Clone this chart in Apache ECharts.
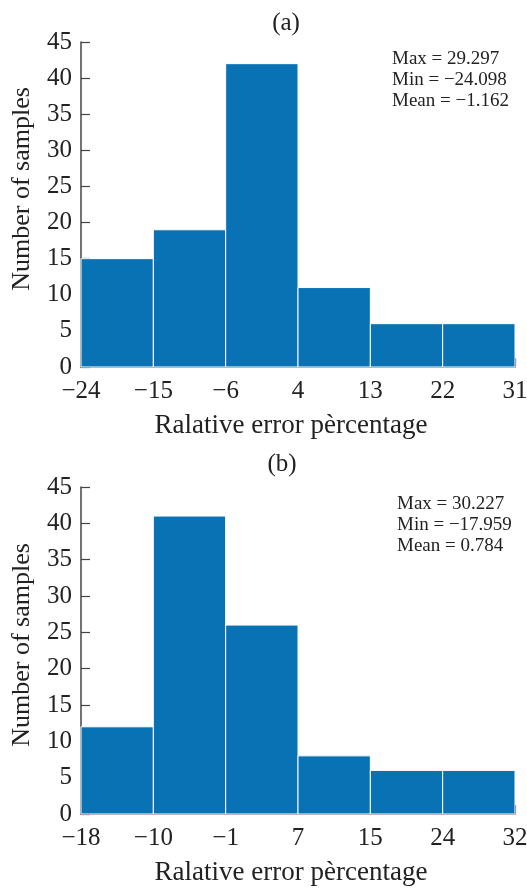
<!DOCTYPE html>
<html>
<head>
<meta charset="utf-8">
<script src="https://cdn.jsdelivr.net/npm/echarts@6/dist/echarts.min.js"></script>
<style>
  html, body { margin: 0; padding: 0; background: #fff; }
  #chart { width: 527px; height: 888px; }
</style>
</head>
<body>
<div id="chart"></div>
<script>
// Histogram (a): bin edge labels and sample counts per bin
const edgesA = ['−24', '−15', '−6', '4', '13', '22', '31'];
const countsA = [15, 19, 42, 11, 6, 6];
const statsA = ['Max = 29.297', 'Min = −24.098', 'Mean = −1.162'];

// Histogram (b): bin edge labels and sample counts per bin
const edgesB = ['−18', '−10', '−1', '7', '15', '24', '32'];
const countsB = [12, 41, 26, 8, 6, 6];
const statsB = ['Max = 30.227', 'Min = −17.959', 'Mean = 0.784'];

const yTicks = { min: 0, max: 45, interval: 5 };
const xLabel = 'Ralative error pèrcentage';
const yLabel = 'Number of samples';

const FONT = '"Liberation Serif", "Times New Roman", serif';
const TEXT = '#222';
const AXIS = '#444';
const BAR = '#0872b4';

const chart = echarts.init(document.getElementById('chart'), null, { renderer: 'canvas' });

function xAxisFor(gridIndex, edges) {
  return {
    gridIndex, type: 'value', min: 0, max: edges.length - 1, interval: 1,
    name: xLabel, nameLocation: 'middle', nameGap: 45,
    nameTextStyle: { fontFamily: FONT, fontSize: 27, color: TEXT, padding: [0, 14, 0, 0] },
    axisLine: { onZero: false, lineStyle: { color: AXIS, width: 1.5 } },
    axisTick: { inside: true, length: 9, lineStyle: { color: AXIS, width: 1.2 } },
    axisLabel: { fontFamily: FONT, fontSize: 25, color: TEXT, margin: 12,
      formatter: v => edges[Math.round(v)] ?? '', showMinLabel: true, showMaxLabel: true },
    splitLine: { show: false }
  };
}

function yAxisFor(gridIndex) {
  return {
    gridIndex, type: 'value', min: yTicks.min, max: yTicks.max, interval: yTicks.interval,
    axisLine: { show: true, lineStyle: { color: AXIS, width: 1.5 } },
    axisTick: { show: true, inside: true, length: 9, lineStyle: { color: AXIS, width: 1.2 } },
    axisLabel: { fontFamily: FONT, fontSize: 25, color: TEXT, margin: 9 },
    splitLine: { show: false }
  };
}

// Each bin is a rectangle spanning [i, i+1] on the x scale and [0, count] on the y scale
function histSeries(index, counts) {
  return {
    type: 'custom',
    xAxisIndex: index, yAxisIndex: index,
    data: counts.map((c, i) => [i, c]),
    renderItem: (params, api) => {
      const i = api.value(0);
      const c = api.value(1);
      const p0 = api.coord([i, c]);
      const p1 = api.coord([i + 1, 0]);
      return {
        type: 'rect',
        shape: { x: p0[0], y: p0[1], width: p1[0] - p0[0], height: p1[1] - p0[1] },
        style: { fill: BAR, stroke: '#ffffff', lineWidth: 1 }
      };
    },
    z: 1
  };
}

function statsText(left, top, lines) {
  return {
    type: 'text', left, top,
    style: { text: lines.join('\n'), font: '19px ' + FONT, fill: TEXT, lineHeight: 21 }
  };
}

// Vertical y-axis title
function yName(x, y) {
  return {
    type: 'text', x, y, rotation: Math.PI / 2,
    style: { text: yLabel, font: '26px ' + FONT, fill: TEXT, align: 'center', verticalAlign: 'middle' }
  };
}

chart.setOption({
  animation: false,
  backgroundColor: '#fff',
  title: [
    { text: '(a)', left: 281, top: 6, textAlign: 'center', textStyle: { fontFamily: FONT, fontSize: 25, fontWeight: 'normal', color: TEXT } },
    { text: '(b)', left: 277, top: 447, textAlign: 'center', textStyle: { fontFamily: FONT, fontSize: 25, fontWeight: 'normal', color: TEXT } }
  ],
  grid: [
    { left: 81, right: 12, top: 42, height: 325, outerBoundsMode: 'none' },
    { left: 81, right: 12, top: 487, height: 327, outerBoundsMode: 'none' }
  ],
  xAxis: [xAxisFor(0, edgesA), xAxisFor(1, edgesB)],
  yAxis: [yAxisFor(0), yAxisFor(1)],
  series: [histSeries(0, countsA), histSeries(1, countsB)],
  graphic: [
    statsText(392, 49, statsA),
    statsText(397, 494, statsB),
    yName(22, 189),
    yName(22, 645)
  ]
});
</script>
</body>
</html>
